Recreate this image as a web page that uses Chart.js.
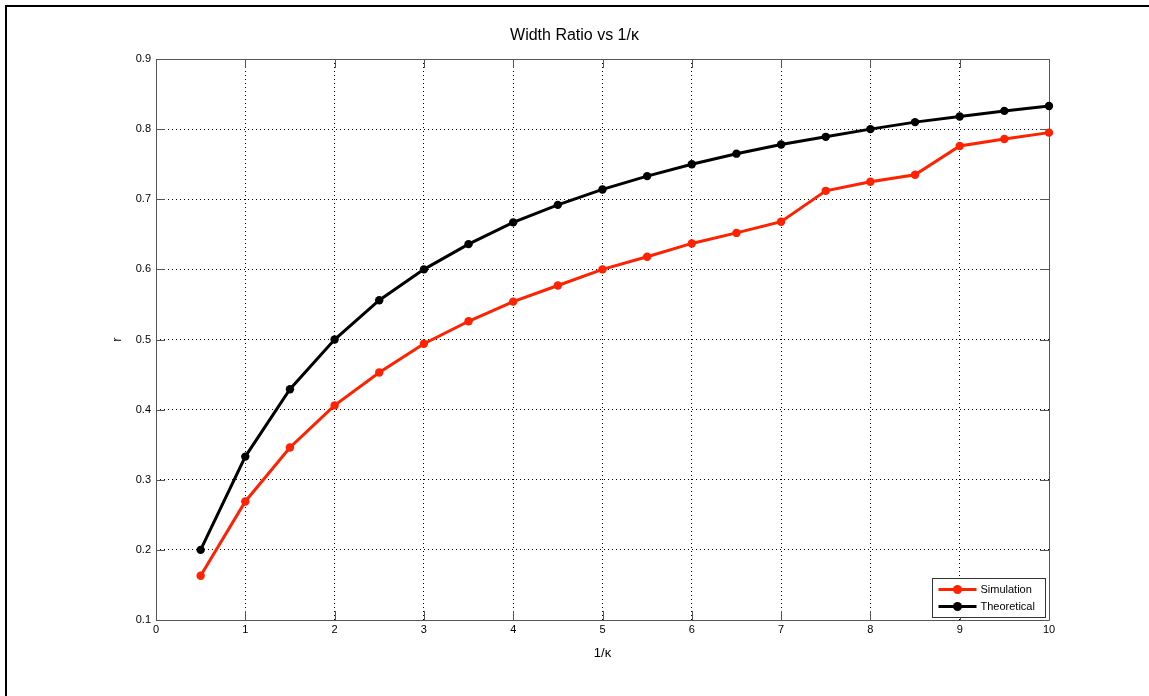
<!DOCTYPE html>
<html>
<head>
<meta charset="utf-8">
<script src="https://cdn.jsdelivr.net/npm/chart.js@4.4.1/dist/chart.umd.min.js"></script>
<style>
  html, body { margin: 0; padding: 0; background: #fff; }
  #wrap { width: 1149px; height: 696px; position: relative; }
</style>
</head>
<body>
<div id="wrap"><canvas id="c" width="1149" height="696"></canvas></div>
<script>
const titleText = 'Width Ratio vs 1/\u03BA';
const xLabel = '1/\u03BA';
const yLabel = 'r';
const seriesNames = ['Simulation', 'Theoretical'];
const xValues = [0.5, 1, 1.5, 2, 2.5, 3, 3.5, 4, 4.5, 5, 5.5, 6, 6.5, 7, 7.5, 8, 8.5, 9, 9.5, 10];
const simulation = [0.163, 0.269, 0.346, 0.406, 0.453, 0.494, 0.526, 0.554, 0.577, 0.600, 0.618, 0.637, 0.652, 0.668, 0.712, 0.725, 0.735, 0.776, 0.786, 0.795];
const theoretical = [0.200, 0.333, 0.429, 0.500, 0.556, 0.600, 0.636, 0.667, 0.692, 0.714, 0.733, 0.750, 0.765, 0.778, 0.789, 0.800, 0.810, 0.818, 0.826, 0.833];
const xTicks = [0, 1, 2, 3, 4, 5, 6, 7, 8, 9, 10];
const yTicks = [0.1, 0.2, 0.3, 0.4, 0.5, 0.6, 0.7, 0.8, 0.9];

const FONT = '"Liberation Sans", Arial, Helvetica, sans-serif';
const RED = '#ff2200';
const BLACK = '#000000';
const AXIS = '#555555';

const toPts = (ys) => xValues.map((x, i) => ({ x: x, y: ys[i] }));

const matlabPlugin = {
  id: 'matlab',
  beforeDraw(chart) {
    const ctx = chart.ctx;
    ctx.save();
    ctx.fillStyle = '#fff';
    ctx.fillRect(0, 0, chart.width, chart.height);
    ctx.restore();
  },
  beforeDatasetsDraw(chart) {
    const ctx = chart.ctx;
    const a = chart.chartArea;
    const xs = chart.scales.x, ys = chart.scales.y;
    const T = 9;
    ctx.save();
    ctx.strokeStyle = AXIS;
    ctx.lineWidth = 1;
    ctx.setLineDash([]);
    ctx.beginPath();
    ctx.rect(Math.round(a.left) + 0.5, Math.round(a.top) + 0.5, Math.round(a.right - a.left), Math.round(a.bottom - a.top));
    ctx.stroke();
    ctx.beginPath();
    xs.ticks.forEach(t => {
      const p = Math.round(xs.getPixelForValue(t.value)) + 0.5;
      ctx.moveTo(p, a.bottom); ctx.lineTo(p, a.bottom - T);
      ctx.moveTo(p, a.top); ctx.lineTo(p, a.top + T);
    });
    ys.ticks.forEach(t => {
      const p = Math.round(ys.getPixelForValue(t.value)) + 0.5;
      ctx.moveTo(a.left, p); ctx.lineTo(a.left + T, p);
      ctx.moveTo(a.right, p); ctx.lineTo(a.right - T, p);
    });
    ctx.stroke();
    ctx.restore();
  },
  afterDatasetsDraw(chart) {
    const ctx = chart.ctx;
    const a = chart.chartArea;
    const w = 113, h = 39;
    const bx = Math.round(a.right - 4 - w) + 0.5, by = Math.round(a.bottom - 3 - h) + 0.5;
    ctx.save();
    ctx.fillStyle = '#fff';
    ctx.fillRect(bx, by, w, h);
    ctx.strokeStyle = '#333';
    ctx.lineWidth = 1;
    ctx.strokeRect(bx, by, w, h);
    chart.data.datasets.forEach((ds, i) => {
      const yy = by + 11 + i * 17;
      ctx.strokeStyle = ds.borderColor;
      ctx.lineWidth = 3;
      ctx.beginPath();
      ctx.moveTo(bx + 6, yy); ctx.lineTo(bx + 44, yy);
      ctx.stroke();
      ctx.fillStyle = ds.borderColor;
      ctx.beginPath();
      ctx.arc(bx + 25, yy, 4.5, 0, Math.PI * 2);
      ctx.fill();
      ctx.fillStyle = '#000';
      ctx.font = '11px ' + FONT;
      ctx.textBaseline = 'middle';
      ctx.textAlign = 'left';
      ctx.fillText(ds.label, bx + 48, yy + 0.5);
    });
    ctx.restore();
  },
  afterDraw(chart) {
    const ctx = chart.ctx;
    ctx.save();
    ctx.fillStyle = '#000';
    ctx.fillRect(5, 5, chart.width - 5, 2);
    ctx.fillRect(5, 5, 2, chart.height - 5);
    ctx.restore();
  }
};

new Chart(document.getElementById('c'), {
  type: 'line',
  data: {
    datasets: [
      { label: seriesNames[0], data: toPts(simulation), borderColor: RED, backgroundColor: RED,
        borderWidth: 3, pointRadius: 4.2, pointBackgroundColor: RED, pointBorderWidth: 0, tension: 0 },
      { label: seriesNames[1], data: toPts(theoretical), borderColor: BLACK, backgroundColor: BLACK,
        borderWidth: 3, pointRadius: 4.2, pointBackgroundColor: BLACK, pointBorderWidth: 0, tension: 0 }
    ]
  },
  options: {
    responsive: false,
    animation: false,
    devicePixelRatio: 1,
    clip: false,
    layout: { padding: { left: 100, right: 100, top: 0, bottom: 29 } },
    plugins: {
      legend: { display: false },
      tooltip: { enabled: false },
      title: {
        display: true, text: titleText, color: '#000',
        font: { family: FONT, size: 16, weight: 'normal', lineHeight: 1.2 },
        padding: { top: 26, bottom: 13.8 }
      }
    },
    scales: {
      x: {
        type: 'linear', min: 0, max: 10,
        afterBuildTicks: (s) => { s.ticks = xTicks.map(v => ({ value: v })); },
        afterFit: (s) => { s.height = 47; },
        ticks: { color: '#000', padding: 3, maxRotation: 0, autoSkip: false,
                 font: { family: FONT, size: 11 }, callback: (v) => String(v) },
        grid: { color: '#000', lineWidth: 1, drawTicks: false },
        border: { display: false, dash: [1, 3] },
        title: { display: true, text: xLabel, color: '#000',
                 font: { family: FONT, size: 13 }, padding: { top: 0, bottom: 6 } }
      },
      y: {
        type: 'linear', min: 0.1, max: 0.9,
        afterBuildTicks: (s) => { s.ticks = yTicks.map(v => ({ value: v })); },
        afterFit: (s) => { s.width = 56; },
        ticks: { color: '#000', padding: 5, autoSkip: false,
                 font: { family: FONT, size: 11 }, callback: (v) => Number(v).toFixed(1) },
        grid: { color: '#000', lineWidth: 1, drawTicks: false },
        border: { display: false, dash: [1, 3] },
        title: { display: true, text: yLabel, color: '#000',
                 font: { family: FONT, size: 13 }, padding: { top: 10, bottom: 0 } }
      }
    }
  },
  plugins: [matlabPlugin]
});
</script>
</body>
</html>
